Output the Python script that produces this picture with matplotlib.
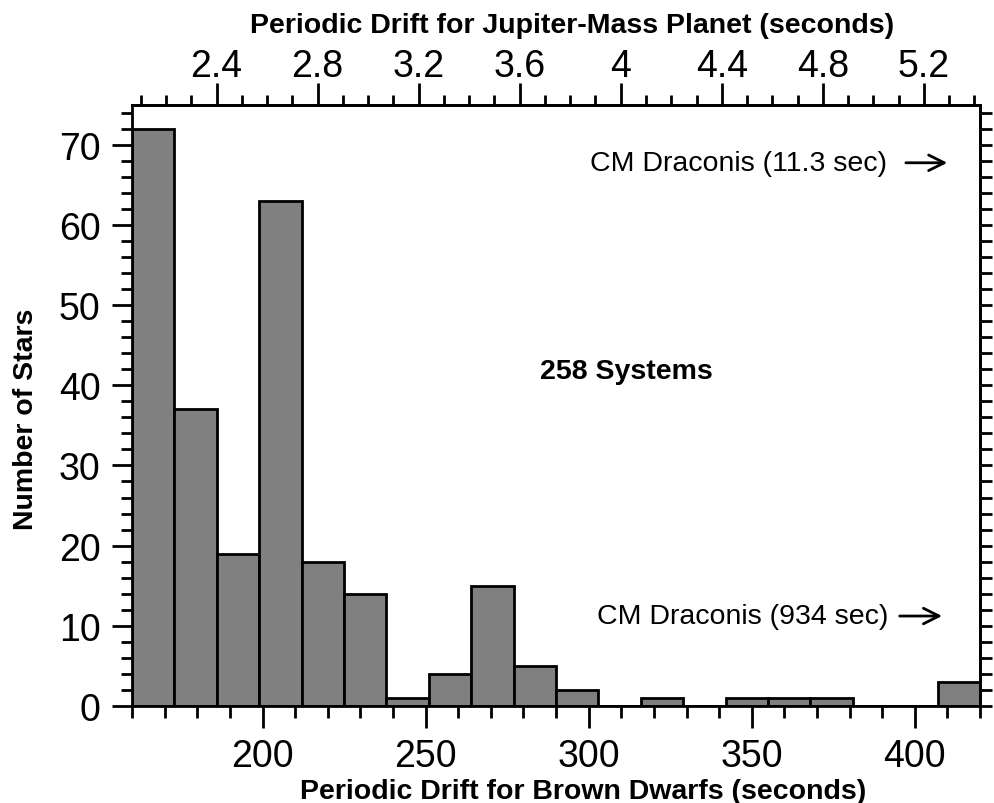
import numpy as np
import matplotlib
matplotlib.use("Agg")
import matplotlib.pyplot as plt
from matplotlib.ticker import MultipleLocator, FixedLocator, FuncFormatter

plt.rcParams["font.family"] = ["Liberation Sans", "DejaVu Sans"]

# histogram
bin_edges = [160, 173, 186, 199, 212, 225, 238, 251, 264, 277, 290,
             303, 316, 329, 342, 355, 368, 381, 394, 407, 420]
counts = [72, 37, 19, 63, 18, 14, 1, 4, 15, 5, 2,
          0, 1, 0, 1, 1, 1, 0, 0, 3]
top_ticks = [2.4, 2.8, 3.2, 3.6, 4.0, 4.4, 4.8, 5.2]

# brown dwarf drift -> Jupiter-mass drift
jup_per_bd = 0.01291

fig = plt.figure(figsize=(9.95, 8.04), dpi=100)
ax = fig.add_axes([0.1327, 0.121, 0.8523, 0.747])

left = np.array(bin_edges[:-1])
widths = np.diff(bin_edges)
ax.bar(left, counts, width=widths, align="edge", color="#808080",
       edgecolor="black", linewidth=2.0)

ax.set_xlim(160, 420)
ax.set_ylim(0, 75)

for s in ax.spines.values():
    s.set_linewidth(2.0)

ax.xaxis.set_major_locator(MultipleLocator(50))
ax.xaxis.set_minor_locator(MultipleLocator(10))
ax.yaxis.set_major_locator(MultipleLocator(10))
ax.yaxis.set_minor_locator(MultipleLocator(2))
ax.tick_params(which="both", direction="out", width=2, labelsize=27,
               top=False, right=False)
ax.tick_params(axis="x", which="major", length=16, pad=7.5)
ax.tick_params(axis="x", which="minor", length=8.5)
ax.tick_params(axis="y", which="major", length=14.5, pad=8)
ax.tick_params(axis="y", which="minor", length=8)

ax.set_xlabel("Periodic Drift for Brown Dwarfs (seconds)", fontsize=20.5,
              fontweight="bold")
ax.xaxis.set_label_coords(0.532, -0.12)
ax.set_ylabel("Number of Stars", fontsize=20.5, fontweight="bold")
ax.yaxis.set_label_coords(-0.11, 0.479)

top = ax.secondary_xaxis("top", functions=(lambda x: x * jup_per_bd,
                                           lambda x: x / jup_per_bd))
top.xaxis.set_major_locator(FixedLocator(top_ticks))
top.xaxis.set_minor_locator(MultipleLocator(0.1))
top.xaxis.set_major_formatter(FuncFormatter(lambda v, _: f"{round(v, 1):g}"))
top.tick_params(which="both", direction="out", width=2, labelsize=27)
top.tick_params(which="major", length=16, pad=-1)
top.tick_params(which="minor", length=7.5)
top.spines["top"].set_linewidth(2.0)

fig.text(571.7 / 995, 1 - 33 / 804,
         "Periodic Drift for Jupiter-Mass Planet (seconds)",
         fontsize=20.5, fontweight="bold", ha="center", va="baseline")

right = ax.secondary_yaxis("right")
right.yaxis.set_major_locator(MultipleLocator(2))
right.tick_params(direction="out", width=2, length=8.5, labelright=False)
right.spines["right"].set_linewidth(2.0)

ax.text(311.7, 41.8, "258 Systems", fontsize=20.5, fontweight="bold",
        ha="center", va="center")

ax.text(391.5, 67.8, "CM Draconis (11.3 sec)", fontsize=20.5,
        ha="right", va="center")
ax.annotate("", xy=(410.8, 67.8), xytext=(396.4, 67.8),
            arrowprops=dict(arrowstyle="->", lw=2, color="black",
                            mutation_scale=28))

ax.text(391.8, 11.2, "CM Draconis (934 sec)", fontsize=20.5,
        ha="right", va="center")
ax.annotate("", xy=(409.2, 11.2), xytext=(394.5, 11.2),
            arrowprops=dict(arrowstyle="->", lw=2, color="black",
                            mutation_scale=28))

fig.savefig("out.png", dpi=100)
